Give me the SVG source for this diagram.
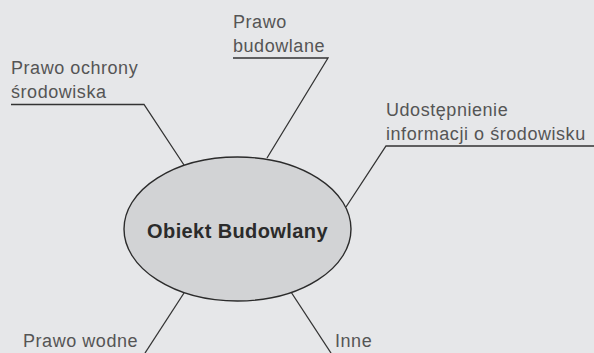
<svg xmlns="http://www.w3.org/2000/svg" width="594" height="353" viewBox="0 0 594 353">
<style>
.lbl{font-family:"Liberation Sans",Arial,sans-serif;font-size:18px;letter-spacing:0.55px;fill:#555;}
.ttl{font-family:"Liberation Sans",Arial,sans-serif;font-size:20px;letter-spacing:0.4px;font-weight:bold;fill:#2b2b2b;}
.ln{fill:none;stroke:#333;stroke-width:1.3;}
</style>
<rect width="594" height="353" fill="#e6e7e9"/>
<g id="connectors">
<polyline class="ln" points="233,58 328,58 267,158"/>
<polyline class="ln" points="11,104.5 144,104.5 184,165"/>
<polyline class="ln" points="594,146 386,146 346,207"/>
<line class="ln" x1="184" y1="293" x2="145" y2="353"/>
<line class="ln" x1="291" y1="292" x2="331" y2="353"/>
</g>
<g id="node-center">
<ellipse cx="237.5" cy="229" rx="113.5" ry="72" fill="#d2d3d5" stroke="#2b2b2b" stroke-width="1.4"/>
<text class="ttl" x="237.5" y="237.5" text-anchor="middle">Obiekt Budowlany</text>
</g>
<g id="node-budowlane">
<text class="lbl" x="233" y="28">Prawo</text>
<text class="lbl" x="233" y="52">budowlane</text>
</g>
<g id="node-ochrony">
<text class="lbl" x="11" y="74">Prawo ochrony</text>
<text class="lbl" x="11" y="97.5">środowiska</text>
</g>
<g id="node-udostepnienie">
<text class="lbl" x="386" y="116">Udostępnienie</text>
<text class="lbl" x="386" y="140">informacji o środowisku</text>
</g>
<g id="node-wodne">
<text class="lbl" x="23" y="347">Prawo wodne</text>
</g>
<g id="node-inne">
<text class="lbl" x="335" y="347">Inne</text>
</g>
</svg>
